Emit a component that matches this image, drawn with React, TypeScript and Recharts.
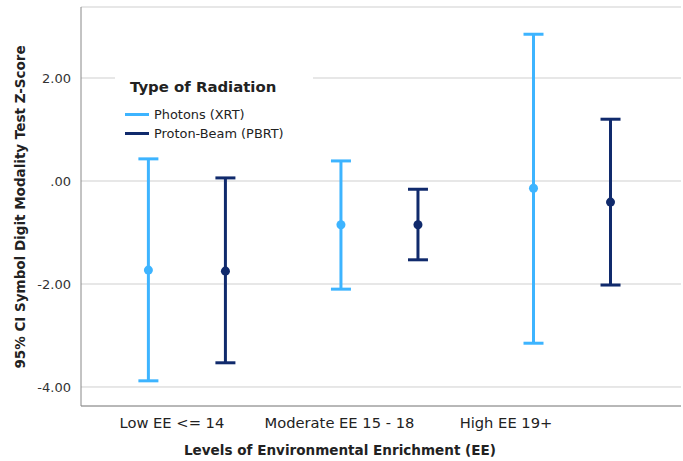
import { ScatterChart, Scatter, XAxis, YAxis, CartesianGrid, ErrorBar, Label } from 'recharts'

const groups = ['Low EE <= 14', 'Moderate EE 15 - 18', 'High EE 19+']
const seriesNames = ['Photons (XRT)', 'Proton-Beam (PBRT)']

const photonMean = [-1.73, -0.85, -0.14]
const photonLow = [-3.88, -2.1, -3.15]
const photonHigh = [0.43, 0.39, 2.85]

const protonMean = [-1.75, -0.85, -0.41]
const protonLow = [-3.53, -1.53, -2.02]
const protonHigh = [0.06, -0.16, 1.2]

const yTicks = [-4, -2, 0, 2]

const colors = ['#3db4ff', '#102a6c']
const font = '"DejaVu Sans", Verdana, sans-serif'

// side-by-side offset of the two series inside a group
const dodge = 0.2
// SPSS puts the category labels a bit left of the bars
const labelShift = [-15, -40, -66]

const toRows = (mean: number[], low: number[], high: number[], off: number) =>
  mean.map((m, i) => ({ x: i + off, y: m, err: [m - low[i], high[i] - m] }))

const photonRows = toRows(photonMean, photonLow, photonHigh, -dodge)
const protonRows = toRows(protonMean, protonLow, protonHigh, dodge)

const fmtY = (v: number) => {
  const s = Math.abs(v).toFixed(2)
  const t = s.startsWith('0') ? s.slice(1) : s
  return v < 0 ? '-' + t : t
}

function GroupTick(props: any) {
  const { x, y, payload, index } = props
  return (
    <text
      x={x + (labelShift[index] ?? 0)}
      y={y + 14}
      textAnchor="middle"
      fontSize={14.7}
      fill="#222"
      fontFamily={font}
    >
      {groups[payload.value]}
    </text>
  )
}

export default function App() {
  return (
    <div style={{ position: 'absolute', left: 0, top: 0, width: 683, height: 461, background: '#fff' }}>
      <ScatterChart width={683} height={461} margin={{ top: 7, right: 2, bottom: 0, left: 0 }}>
        <CartesianGrid horizontal vertical={false} stroke="#cfcfcf" />
        <XAxis
          type="number"
          dataKey="x"
          domain={[-0.55, 2.566]}
          ticks={[0, 1, 2]}
          tick={<GroupTick />}
          tickLine={false}
          axisLine={{ stroke: '#888' }}
          height={55}
          allowDataOverflow
        >
          <Label
            content={() => (
              <text x={340} y={455} textAnchor="middle" fontSize={13.55} fontWeight="bold" fill="#222" fontFamily={font}>
                Levels of Environmental Enrichment (EE)
              </text>
            )}
          />
        </XAxis>
        <YAxis
          type="number"
          dataKey="y"
          domain={[-4.369, 3.379]}
          ticks={yTicks}
          tickFormatter={fmtY}
          tickLine={false}
          axisLine={{ stroke: '#888' }}
          width={81}
          tick={{ fontSize: 13, fill: '#333', fontFamily: font, dx: -2 }}
          allowDataOverflow
        >
          <Label
            content={() => (
              <text
                x={25}
                y={207}
                transform="rotate(-90 25 207)"
                textAnchor="middle"
                fontSize={13.5}
                fontWeight="bold"
                fill="#222"
                fontFamily={font}
              >
                95% CI Symbol Digit Modality Test Z-Score
              </text>
            )}
          />
        </YAxis>
        <Scatter name={seriesNames[0]} data={photonRows} fill={colors[0]} shape="circle" isAnimationActive={false}>
          <ErrorBar dataKey="err" direction="y" width={10} stroke={colors[0]} strokeWidth={3} isAnimationActive={false} />
        </Scatter>
        <Scatter name={seriesNames[1]} data={protonRows} fill={colors[1]} shape="circle" isAnimationActive={false}>
          <ErrorBar dataKey="err" direction="y" width={10} stroke={colors[1]} strokeWidth={3} isAnimationActive={false} />
        </Scatter>
      </ScatterChart>
      <div
        style={{
          position: 'absolute',
          left: 115,
          top: 70,
          width: 198,
          height: 75,
          background: '#fff',
          fontFamily: font,
          color: '#222',
        }}
      >
        <div style={{ position: 'absolute', left: 15, top: 8, fontSize: 14.9, fontWeight: 'bold', whiteSpace: 'nowrap' }}>
          Type of Radiation
        </div>
        {seriesNames.map((n, i) => (
          <div key={n} style={{ position: 'absolute', left: 10, top: 37 + i * 19, display: 'flex', alignItems: 'center', whiteSpace: 'nowrap' }}>
            <span style={{ display: 'inline-block', width: 24, height: 3, background: colors[i], marginRight: 5 }} />
            <span style={{ fontSize: 12.9 }}>{n}</span>
          </div>
        ))}
      </div>
    </div>
  )
}
